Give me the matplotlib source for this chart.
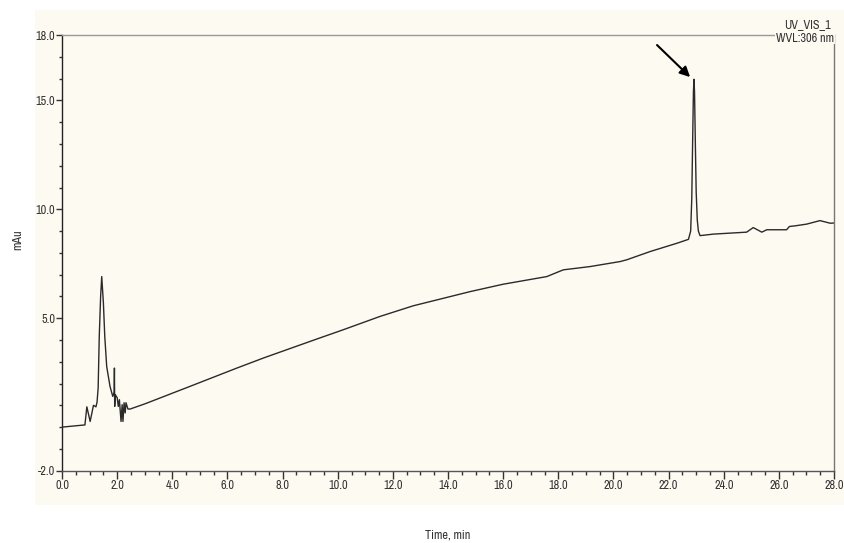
import matplotlib
matplotlib.use("Agg")
import matplotlib.pyplot as plt
from matplotlib import font_manager as fm
from matplotlib.patches import Rectangle
import numpy as np

# ── Data ──────────────────────────────────────────────────────────────────────
time_min = [
    0.00, 0.83, 0.90, 1.02, 1.14, 1.23, 1.27, 1.31, 1.35, 1.40, 1.44,
    1.50, 1.55, 1.62, 1.74, 1.84, 1.89, 1.90, 1.91, 1.93, 2.00, 2.04,
    2.08, 2.14, 2.18, 2.21, 2.25, 2.29, 2.32, 2.39, 2.47, 3.01, 4.64,
    6.34, 7.30, 9.12, 10.20, 11.53, 12.74, 14.80, 16.00, 17.58, 18.18,
    19.15, 20.24, 20.48, 21.33, 22.30, 22.72, 22.80, 22.84, 22.87, 22.90,
    22.92, 22.94, 22.97, 23.00, 23.04, 23.08, 23.14, 23.62, 24.83, 25.07,
    25.38, 25.56, 26.28, 26.38, 26.59, 27.01, 27.49, 27.86, 28.00,
]
signal_mau = [
    0.00, 0.10, 0.93, 0.26, 1.00, 0.93, 1.15, 1.80, 4.16, 6.00, 6.91,
    5.70, 4.16, 2.78, 1.87, 1.41, 1.60, 2.71, 0.95, 1.49, 1.35, 0.95,
    1.26, 0.26, 1.03, 0.26, 1.12, 0.65, 1.12, 0.83, 0.83, 1.07, 1.87,
    2.71, 3.17, 3.99, 4.47, 5.08, 5.57, 6.22, 6.56, 6.91, 7.22,
    7.37, 7.60, 7.68, 8.06, 8.44, 8.62, 9.00, 10.50, 13.00, 15.40,
    15.97, 15.40, 13.00, 10.80, 9.50, 9.00, 8.79, 8.86, 8.95, 9.16,
    8.95, 9.06, 9.06, 9.21, 9.24, 9.32, 9.48, 9.36, 9.37,
]
x_major = np.arange(0, 28.1, 2.0)
x_minor = np.arange(0, 28.1, 0.5)
y_major = [-2.0, 5.0, 10.0, 15.0, 18.0]
y_minor = np.arange(-2, 18.1, 1.0)

CREAM = "#fdfaf2"
TXT = "#333333"
FS = 8.8

# narrow font if one is around (Arial Narrow look), else DejaVu condensed
names = sorted({f.name for f in fm.fontManager.ttflist})
narrow = [n for n in names if "Narrow" in n] + [n for n in names if "Condensed" in n]
plt.rcParams["font.family"] = (narrow[:1] or []) + ["DejaVu Sans"]
plt.rcParams["font.stretch"] = "condensed"

fig = plt.figure(figsize=(8.44, 5.43), dpi=100)
fig.patch.set_facecolor("white")
fig.add_artist(Rectangle((0.0415, 0.07), 0.96, 0.9116, transform=fig.transFigure,
                         facecolor=CREAM, edgecolor="none", zorder=0))

ax = fig.add_axes([0.0735, 0.1332, 0.9147, 0.8023])
ax.set_facecolor(CREAM)
ax.plot(time_min, signal_mau, color="#2a2a2a", linewidth=1.0)

ax.set_xlim(0, 28)
ax.set_ylim(-2, 18)
ax.set_xticks(x_major)
ax.set_xticks(x_minor, minor=True)
ax.set_xticklabels([f"{v:.1f}" for v in x_major])
ax.set_yticks(y_major)
ax.set_yticks(y_minor, minor=True)
ax.set_yticklabels([f"{v:.1f}" for v in y_major])
ax.tick_params(axis="x", which="major", length=6, width=1, pad=1, labelsize=FS, colors=TXT)
ax.tick_params(axis="x", which="minor", length=3, width=1, colors=TXT)
ax.tick_params(axis="y", which="major", length=4, width=1, pad=1, labelsize=FS, colors=TXT)
ax.tick_params(axis="y", which="minor", length=2, width=1, colors=TXT)

ax.spines["left"].set_color("#222222")
ax.spines["bottom"].set_color("#555555")
ax.spines["top"].set_color("#999999")
ax.spines["right"].set_color("#777777")
for s in ax.spines.values():
    s.set_linewidth(1.0)

fig.text(0.021, 0.558, "mAu", rotation=90, ha="center", va="center", fontsize=FS, color=TXT)
fig.text(0.531, 0.015, "Time, min", ha="center", va="center", fontsize=FS, color=TXT)

ax.text(0.9965, 1.025, "UV_VIS_1", transform=ax.transAxes, ha="right", va="center",
        fontsize=FS, color=TXT)
ax.text(1.0, 0.993, "WVL:306 nm", transform=ax.transAxes, ha="right", va="center",
        fontsize=FS, color=TXT,
        bbox=dict(facecolor=CREAM, edgecolor="none", pad=0.5))

ax.annotate("", xy=(22.78, 16.07), xytext=(21.58, 17.54),
            arrowprops=dict(arrowstyle="-|>,head_length=0.6,head_width=0.3",
                            color="black", lw=1.5, shrinkA=0, shrinkB=0))

fig.savefig("out.png", dpi=100, facecolor="white")
